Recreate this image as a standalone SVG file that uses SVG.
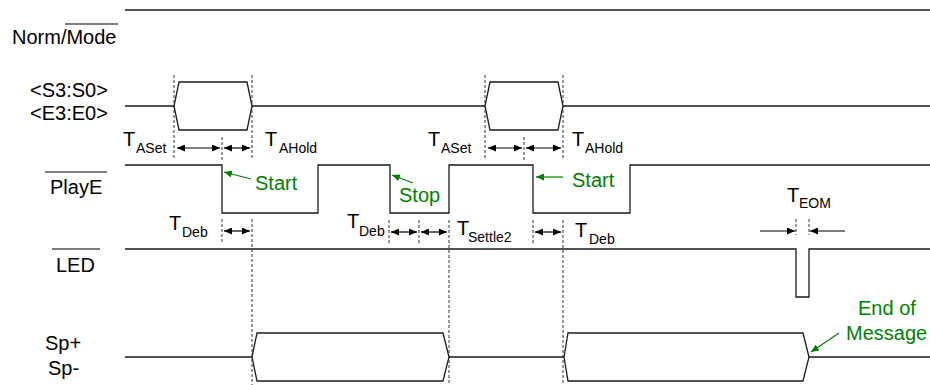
<svg xmlns="http://www.w3.org/2000/svg" width="930" height="385" viewBox="0 0 930 385">
<defs>
<marker id="ah" viewBox="0 0 8 7" refX="8" refY="3.5" markerWidth="8" markerHeight="7" markerUnits="userSpaceOnUse" orient="auto-start-reverse"><path d="M0,0 L8,3.5 L0,7 z" fill="#000"/></marker>
<marker id="gh" viewBox="0 0 8 7" refX="8" refY="3.5" markerWidth="8" markerHeight="7" markerUnits="userSpaceOnUse" orient="auto"><path d="M0,0 L8,3.5 L0,7 z" fill="#008000"/></marker>
</defs>
<style>
.sig{fill:none;stroke:#1a1a1a;stroke-width:1.3}
.bus{fill:#fff;stroke:#1a1a1a;stroke-width:1.3}
.ol{stroke:#000;stroke-width:1.2}
.dash{stroke:#333;stroke-width:1;stroke-dasharray:3,2;fill:none}
.tarr{stroke:#000;stroke-width:1.2;marker-start:url(#ah);marker-end:url(#ah)}
.sarr{stroke:#000;stroke-width:1.2;marker-end:url(#ah)}
.garr{stroke:#008000;stroke-width:1.2;marker-end:url(#gh)}
.lbl{font-family:"Liberation Sans",Arial,sans-serif;font-size:20px;fill:#000}
.t{font-family:"Liberation Sans",Arial,sans-serif;font-size:20px;fill:#000}
.sub{font-family:"Liberation Sans",Arial,sans-serif;font-size:14px;fill:#000}
.g{font-family:"Liberation Sans",Arial,sans-serif;font-size:20px;fill:#008000}
</style>
<rect width="930" height="385" fill="#fff"/>

<g id="norm-mode">
<text class="lbl" x="12" y="44">Norm/Mode</text>
<line class="ol" x1="65" y1="24" x2="118" y2="24"/>
<path class="sig" d="M125,10 H930"/>
</g>

<g id="address">
<text class="lbl" x="30" y="97">&lt;S3:S0&gt;</text>
<text class="lbl" x="30" y="120">&lt;E3:E0&gt;</text>
<path class="sig" d="M125,106 H174 M252,106 H485 M563,106 H930"/>
<path class="bus" d="M174,106 L179,82 L247,82 L252,106 L247,130 L179,130 Z"/>
<path class="bus" d="M485,106 L490,82 L558,82 L563,106 L558,130 L490,130 Z"/>
</g>

<g id="playe">
<text class="lbl" x="50" y="194">PlayE</text>
<line class="ol" x1="45" y1="172" x2="107" y2="172"/>
<path class="sig" d="M125,165 H222 V213 H318 V165 H390 V213 H449 V165 H533 V213 H630 V165 H930"/>
</g>

<g id="led">
<text class="lbl" x="56" y="272">LED</text>
<line class="ol" x1="52" y1="249" x2="100" y2="249"/>
<path class="sig" d="M125,249 H796 V297 H809 V249 H930"/>
</g>

<g id="speaker">
<text class="lbl" x="45" y="350">Sp+</text>
<text class="lbl" x="48" y="375">Sp-</text>
<path class="sig" d="M125,357 H252 M449,357 H564 M809,357 H930"/>
<path class="bus" d="M252,357 L257,333 L443,333 L449,357 L443,381 L257,381 Z"/>
<path class="bus" d="M564,357 L568,333 L803,333 L809,357 L803,381 L568,381 Z"/>
</g>

<g id="connectors">
<path class="dash" d="M174,75 V160 M222,137 V160 M222,219 V243 M252,75 V160 M252,219 V385 M485,75 V160 M524,137 V160 M563,75 V160 M563,220 V385 M389,220 V243 M419,220 V243 M449,220 V385 M533,220 V243 M796,219 V235 M809,219 V235"/>
<line class="tarr" x1="177" y1="148" x2="220" y2="148"/>
<line class="tarr" x1="224" y1="148" x2="250" y2="148"/>
<line class="tarr" x1="488" y1="148" x2="522" y2="148"/>
<line class="tarr" x1="526" y1="148" x2="561" y2="148"/>
<line class="tarr" x1="224" y1="231" x2="250" y2="231"/>
<line class="tarr" x1="391" y1="232" x2="417" y2="232"/>
<line class="tarr" x1="421" y1="232" x2="447" y2="232"/>
<line class="tarr" x1="535" y1="232" x2="561" y2="232"/>
<line class="sarr" x1="760" y1="231" x2="795" y2="231"/>
<line class="sarr" x1="845" y1="231" x2="810" y2="231"/>
<line class="garr" x1="251" y1="179" x2="224" y2="172"/>
<line class="garr" x1="413" y1="183" x2="392" y2="175"/>
<line class="garr" x1="563" y1="177" x2="536" y2="177"/>
<line class="garr" x1="839" y1="333" x2="811" y2="352"/>
</g>

<g id="labels">
<text class="t" x="123" y="146">T</text><text class="sub" x="136" y="153">ASet</text>
<text class="t" x="265" y="146">T</text><text class="sub" x="279" y="153">AHold</text>
<text class="t" x="428" y="146">T</text><text class="sub" x="441" y="153">ASet</text>
<text class="t" x="572" y="146">T</text><text class="sub" x="585" y="153">AHold</text>
<text class="t" x="169" y="230">T</text><text class="sub" x="182" y="237">Deb</text>
<text class="t" x="347" y="228">T</text><text class="sub" x="359" y="236">Deb</text>
<text class="t" x="457" y="235">T</text><text class="sub" x="468" y="242">Settle2</text>
<text class="t" x="575" y="237">T</text><text class="sub" x="589" y="244">Deb</text>
<text class="t" x="787" y="202">T</text><text class="sub" x="799" y="208">EOM</text>
<text class="g" x="255" y="190">Start</text>
<text class="g" x="399" y="202">Stop</text>
<text class="g" x="572" y="187">Start</text>
<text class="g" x="858" y="315">End of</text>
<text class="g" x="846" y="340">Message</text>
</g>
</svg>
